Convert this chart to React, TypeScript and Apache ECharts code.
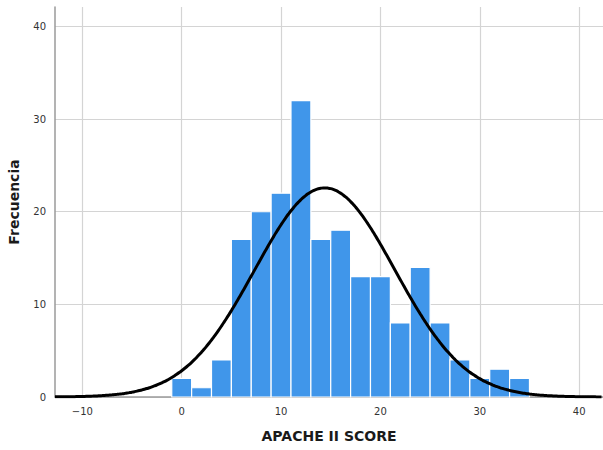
import React, { useEffect, useRef } from "react";
import * as echarts from "echarts";

// Histogram bins: centre of each 2-point APACHE II bin and its count
const binCenters = [0, 2, 4, 6, 8, 10, 12, 14, 16, 18, 20, 22, 24, 26, 28, 30, 32, 34];
const binCounts = [2, 1, 4, 17, 20, 22, 32, 17, 18, 13, 13, 8, 14, 8, 4, 2, 3, 2];
const binWidth = 2;

// Fitted normal curve parameters
const fitMean = 14.4;
const fitSd = 7.07;

const xTicks = [-10, 0, 10, 20, 30, 40];
const yTicks = [0, 10, 20, 30, 40];

const X_MIN = -12.75;
const X_MAX = 42.4;
const Y_MAX = 42.1;

export default function App() {
  const ref = useRef<HTMLDivElement>(null);

  useEffect(() => {
    if (!ref.current) return;
    const chart = echarts.init(ref.current, null, { renderer: "svg" });

    const total = binCounts.reduce((a, b) => a + b, 0);
    const scale = (total * binWidth) / (fitSd * Math.sqrt(2 * Math.PI));
    const curve: number[][] = [];
    for (let x = X_MIN; x <= X_MAX + 1e-9; x += 0.25) {
      const z = (x - fitMean) / fitSd;
      curve.push([x, scale * Math.exp(-0.5 * z * z)]);
    }

    const bars = binCenters.map((c, i) => [c, binCounts[i]]);
    const font = "'DejaVu Sans', 'Open Sans', sans-serif";

    chart.setOption({
      animation: false,
      grid: { left: 55, right: 0, top: 7, bottom: 53, containLabel: false, outerBoundsMode: "none" },
      xAxis: {
        type: "value",
        min: X_MIN,
        max: X_MAX,
        name: "APACHE II SCORE",
        nameLocation: "middle",
        nameGap: 32,
        nameTextStyle: { fontSize: 14, fontWeight: "bold", color: "#1a1a1a", fontFamily: font },
        axisLine: { show: true, onZero: false, lineStyle: { color: "#9a9a9a", width: 1.5 } },
        axisTick: { show: false, customValues: xTicks },
        axisLabel: {
          customValues: xTicks,
          fontSize: 10,
          color: "#333",
          fontFamily: font,
          margin: 9,
          formatter: (v: number) => String(v).replace("-", "\u2212"),
        },
        splitLine: { show: true, lineStyle: { color: "#d4d4d4", width: 1.2 } },
      },
      yAxis: {
        type: "value",
        min: 0,
        max: Y_MAX,
        name: "Frecuencia",
        nameLocation: "middle",
        nameGap: 34,
        nameTextStyle: { fontSize: 14, fontWeight: "bold", color: "#1a1a1a", fontFamily: font },
        axisLine: { show: true, onZero: false, lineStyle: { color: "#9a9a9a", width: 1.5 } },
        axisTick: { show: false, customValues: yTicks },
        axisLabel: { customValues: yTicks, fontSize: 10, color: "#333", fontFamily: font, margin: 9 },
        splitLine: { show: true, lineStyle: { color: "#d4d4d4", width: 1.2 } },
      },
      series: [
        {
          type: "custom",
          data: bars,
          z: 2,
          renderItem: (params: any, api: any) => {
            const c = api.value(0);
            const v = api.value(1);
            const p0 = api.coord([c - binWidth / 2, v]);
            const p1 = api.coord([c + binWidth / 2, 0]);
            return {
              type: "rect",
              shape: { x: p0[0], y: p0[1], width: p1[0] - p0[0], height: p1[1] - p0[1] },
              style: { fill: "#4096ea", stroke: "#ffffff", lineWidth: 1.2 },
            };
          },
        },
        {
          type: "line",
          data: curve,
          z: 3,
          showSymbol: false,
          symbol: "none",
          smooth: true,
          lineStyle: { color: "#000", width: 3 },
        },
      ],
    });

    return () => chart.dispose();
  }, []);

  return <div ref={ref} style={{ width: 603, height: 450, position: "absolute", left: 0, top: 0 }} />;
}
